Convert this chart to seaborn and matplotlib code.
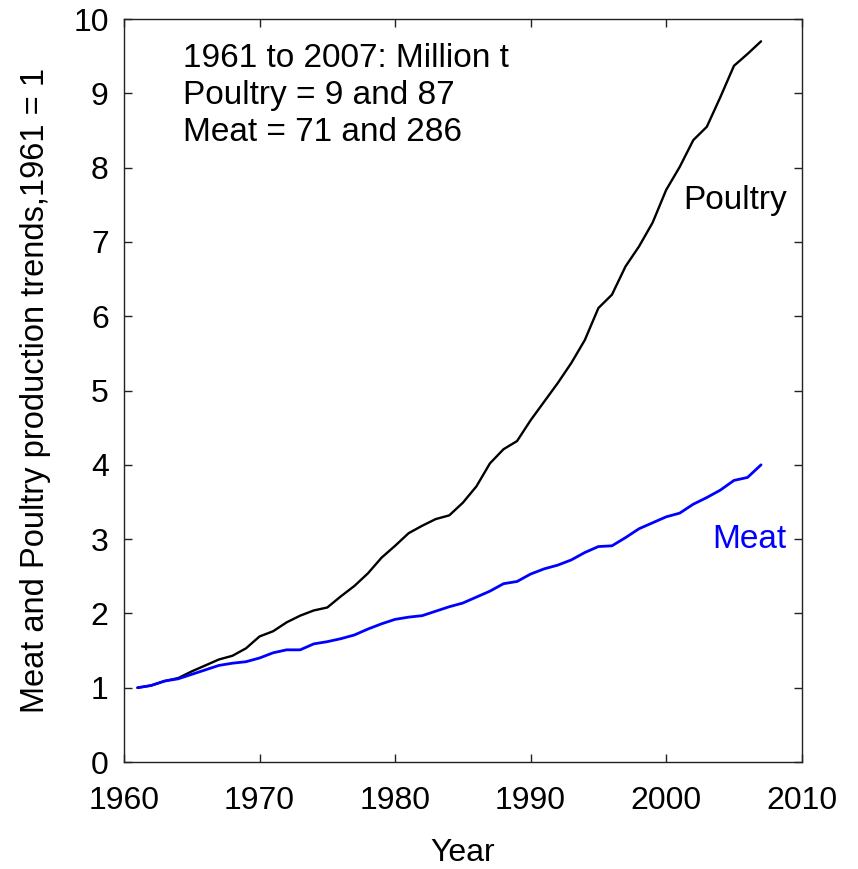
import matplotlib
matplotlib.use("Agg")
import matplotlib.pyplot as plt
import seaborn as sns
import pandas as pd

years = list(range(1961, 2008))
poultry = [1.00, 1.03, 1.09, 1.13, 1.22, 1.30, 1.38, 1.43, 1.53, 1.69,
           1.76, 1.88, 1.97, 2.04, 2.08, 2.23, 2.37, 2.54, 2.75, 2.91,
           3.08, 3.18, 3.27, 3.32, 3.49, 3.71, 4.02, 4.21, 4.32, 4.60,
           4.85, 5.10, 5.37, 5.68, 6.11, 6.29, 6.67, 6.94, 7.26, 7.70,
           8.01, 8.37, 8.55, 8.95, 9.37, 9.53, 9.70]
meat = [1.00, 1.03, 1.09, 1.12, 1.18, 1.24, 1.30, 1.33, 1.35, 1.40,
        1.47, 1.51, 1.51, 1.59, 1.62, 1.66, 1.71, 1.79, 1.86, 1.92,
        1.95, 1.97, 2.03, 2.09, 2.14, 2.22, 2.30, 2.40, 2.43, 2.53,
        2.60, 2.65, 2.72, 2.82, 2.90, 2.91, 3.02, 3.14, 3.22, 3.30,
        3.35, 3.47, 3.56, 3.66, 3.79, 3.83, 4.00]
annotation_lines = ["1961 to 2007: Million t", "Poultry = 9 and 87", "Meat = 71 and 286"]

df = pd.DataFrame({"Year": years, "Poultry": poultry, "Meat": meat})

sns.set_style("ticks")
plt.rcParams["font.family"] = ["Liberation Sans", "DejaVu Sans"]
plt.rcParams["text.color"] = "black"
plt.rcParams["axes.labelcolor"] = "black"
plt.rcParams["xtick.color"] = "black"
plt.rcParams["ytick.color"] = "black"

fig = plt.figure(figsize=(8.58, 8.69), dpi=100)
ax = fig.add_axes([0.1445, 0.1231, 0.9344 - 0.1445, 0.9781 - 0.1231])

sns.lineplot(data=df, x="Year", y="Poultry", ax=ax, color="black", linewidth=1.7)
sns.lineplot(data=df, x="Year", y="Meat", ax=ax, color="#0000ff", linewidth=2.0)

ax.set_xlim(1960, 2010)
ax.set_ylim(0, 10)
ax.set_xticks(range(1960, 2011, 10))
ax.set_yticks(range(0, 11))
ax.tick_params(direction="in", length=6, width=1, top=True, right=True,
               labelsize=23, color="#222222", labelcolor="black")
ax.tick_params(axis="y", pad=11)
ax.tick_params(axis="x", pad=17)
for s in ax.spines.values():
    s.set_visible(True)
    s.set_linewidth(1.0)
    s.set_color("#222222")

ax.set_xlabel("Year", fontsize=23, labelpad=16)
ax.set_ylabel("Meat and Poultry production trends,1961 = 1", fontsize=23.5, labelpad=16)

for i, line in enumerate(annotation_lines):
    ax.text(0.087, 0.936 - i * 0.0498, line, transform=ax.transAxes,
            fontsize=24, ha="left", va="baseline")

ax.text(2008.9, 7.56, "Poultry", color="black", fontsize=24, ha="right", va="center")
ax.text(2008.9, 3.0, "Meat", color="#0000ff", fontsize=24, ha="right", va="center")

fig.savefig("out.png", dpi=100)
